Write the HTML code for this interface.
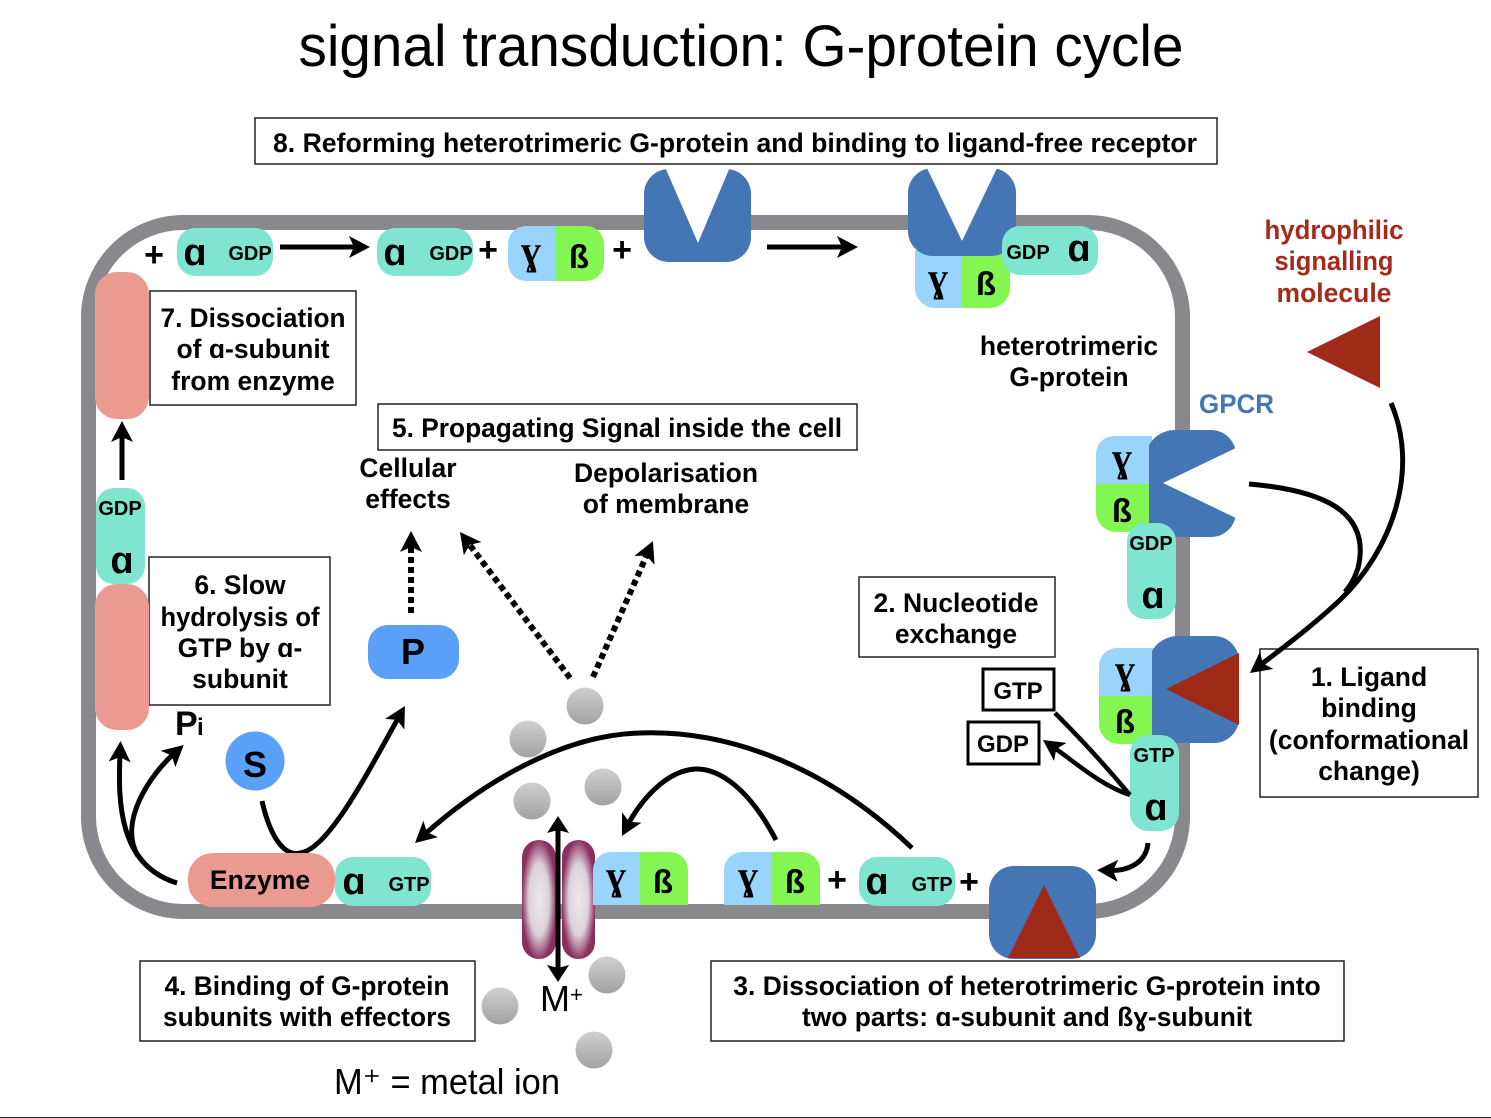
<!DOCTYPE html>
<html><head><meta charset="utf-8">
<style>
html,body{margin:0;padding:0;background:#fff}
svg{display:block}
text{font-family:"Liberation Sans",sans-serif;fill:#000}
.b{font-weight:bold;font-size:26.5px;text-anchor:middle}
.g{font-weight:bold;font-size:20px;text-anchor:middle}
.a{font-weight:bold;font-size:38px;text-anchor:middle}
.s{font-weight:bold;font-size:33px;text-anchor:middle}
.y{font-family:"Liberation Serif",serif;font-weight:bold;font-size:40px;text-anchor:middle}
.bx{fill:#fff;stroke:#222;stroke-width:1.5}
.bt{fill:#fff;stroke:#000;stroke-width:3}
.ar{fill:none;stroke:#000;stroke-width:5;stroke-linecap:butt}
.ah{fill:none;stroke:#000;stroke-width:5;marker-end:url(#h)}
.do{fill:none;stroke:#000;stroke-width:6;stroke-dasharray:6 4;marker-end:url(#h)}
.t{fill:#80e5d0}.lb{fill:#99d4fb}.gr{fill:#83f652}.bl{fill:#4475b4}.rd{fill:#9e2a17}.sa{fill:#ea9a90}
.c{fill:url(#ball)}
.ch{fill:url(#chan)}
</style></head><body>
<svg width="1491" height="1118" viewBox="0 0 1491 1118" xmlns="http://www.w3.org/2000/svg">
<defs>
<marker id="h" markerUnits="userSpaceOnUse" markerWidth="24" markerHeight="24" refX="8" refY="11" orient="auto"><path d="M0 0L21 11L0 22L5 11z" fill="#000"/></marker>
<linearGradient id="ball" x1="0" y1="0" x2="0" y2="1"><stop offset="0" stop-color="#d0d0d0"/><stop offset="1" stop-color="#a2a2a2"/></linearGradient>
<radialGradient id="chan" cx="0.5" cy="0.5" r="0.6"><stop offset="0" stop-color="#ece8ec"/><stop offset="0.5" stop-color="#dcd2da"/><stop offset="0.85" stop-color="#8b2f5e"/></radialGradient>
</defs>
<rect width="1491" height="1118" fill="#fff"/>
<rect x="0" y="1117" width="1491" height="1" fill="#222"/>

<text x="741" y="66" font-size="58" text-anchor="middle" textLength="885" lengthAdjust="spacingAndGlyphs">signal transduction: G-protein cycle</text>

<!-- membrane -->
<rect x="88.5" y="222.5" width="1094" height="689" rx="95" fill="none" stroke="#88888d" stroke-width="15"/>

<!-- text boxes -->
<rect class="bx" x="255" y="118" width="962" height="46"/>
<text class="b" x="735" y="152" textLength="924" lengthAdjust="spacingAndGlyphs">8. Reforming heterotrimeric G-protein and binding to ligand-free receptor</text>
<rect class="bx" x="150" y="291" width="206" height="114"/>
<text class="b" x="253" y="327" textLength="185" lengthAdjust="spacingAndGlyphs">7. Dissociation</text><text class="b" x="253" y="358">of ɑ-subunit</text><text class="b" x="253" y="390">from enzyme</text>
<rect class="bx" x="378" y="404" width="479" height="46"/>
<text class="b" x="617" y="437" textLength="450" lengthAdjust="spacingAndGlyphs">5. Propagating Signal inside the cell</text>
<text class="b" x="408" y="477">Cellular</text><text class="b" x="408" y="508">effects</text>
<text class="b" x="666" y="482">Depolarisation</text><text class="b" x="666" y="513">of membrane</text>
<rect class="bx" x="859" y="577" width="196" height="80"/>
<text class="b" x="956" y="612">2. Nucleotide</text><text class="b" x="956" y="643">exchange</text>
<rect class="bx" x="149" y="557" width="181" height="148"/>
<text class="b" x="240" y="594">6. Slow</text><text class="b" x="240" y="626" textLength="159" lengthAdjust="spacingAndGlyphs">hydrolysis of</text><text class="b" x="240" y="657">GTP by ɑ-</text><text class="b" x="240" y="688">subunit</text>
<rect class="bx" x="1260" y="649" width="218" height="148"/>
<text class="b" x="1369" y="686">1. Ligand</text><text class="b" x="1369" y="717">binding</text><text class="b" x="1369" y="749">(conformational</text><text class="b" x="1369" y="780">change)</text>
<rect class="bx" x="140" y="961" width="335" height="80"/>
<text class="b" x="307" y="995" textLength="285" lengthAdjust="spacingAndGlyphs">4. Binding of G-protein</text><text class="b" x="307" y="1026" textLength="288" lengthAdjust="spacingAndGlyphs">subunits with effectors</text>
<rect class="bx" x="711" y="961" width="633" height="80"/>
<text class="b" x="1027" y="995">3. Dissociation of heterotrimeric G-protein into</text><text class="b" x="1027" y="1026" textLength="450" lengthAdjust="spacingAndGlyphs">two parts: ɑ-subunit and ßɣ-subunit</text>
<rect class="bt" x="983" y="669" width="71" height="41"/>
<text class="b" x="1018" y="699" style="font-size:24px">GTP</text>
<rect class="bt" x="968" y="722" width="71" height="42"/>
<text class="b" x="1003" y="752" style="font-size:24px">GDP</text>

<!-- top row -->
<text class="b" x="154" y="266" style="font-size:34px">+</text>
<rect class="t" x="177" y="228" width="96" height="48" rx="18"/>
<text class="a" x="195" y="265">ɑ</text><text class="g" x="250" y="260">GDP</text>
<path class="ah" d="M280 247H357"/>
<rect class="t" x="377" y="228" width="96" height="48" rx="18"/>
<text class="a" x="395" y="265">ɑ</text><text class="g" x="451" y="260">GDP</text>
<text class="b" x="488" y="261" style="font-size:34px">+</text>
<path class="lb" d="M526 226H556V281H526a18 18 0 0 1-18-18V244a18 18 0 0 1 18-18z"/>
<path class="gr" d="M556 226H586a18 18 0 0 1 18 18V263a18 18 0 0 1-18 18H556z"/>
<text class="y" x="531" y="264">ɣ</text><text class="s" x="579" y="268">ß</text>
<text class="b" x="622" y="261" style="font-size:34px">+</text>
<rect class="bl" x="644" y="169" width="107" height="93" rx="25"/>
<polygon points="665,167 730,167 698,243" fill="#fff"/>
<path class="ah" d="M767 247H845"/>

<!-- top right trimer -->
<path class="lb" d="M915 250H962V308H935a20 20 0 0 1-20-20z"/>
<path class="gr" d="M962 250H1010V288a20 20 0 0 1-20 20H962z"/>
<rect class="bl" x="908" y="168" width="108" height="88" rx="25"/>
<polygon points="926,166 998,166 962,241" fill="#fff"/>
<text class="y" x="938" y="291">ɣ</text><text class="s" x="986" y="295">ß</text>
<rect class="t" x="1002" y="226" width="96" height="49" rx="18"/>
<text class="g" x="1028" y="259">GDP</text><text class="a" x="1079" y="261">ɑ</text>

<text class="b" x="1069" y="355">heterotrimeric</text><text class="b" x="1069" y="386">G-protein</text>
<text class="b" x="1334" y="239" style="fill:#a52a1a" textLength="139" lengthAdjust="spacingAndGlyphs">hydrophilic</text><text class="b" x="1334" y="270" style="fill:#a52a1a" textLength="119" lengthAdjust="spacingAndGlyphs">signalling</text><text class="b" x="1334" y="302" style="fill:#a52a1a">molecule</text>
<polygon class="rd" points="1380,316 1380,388 1307,352"/>
<text x="1199" y="413" font-size="27" font-weight="bold" style="fill:#4475b4" textLength="75" lengthAdjust="spacingAndGlyphs">GPCR</text>

<!-- right receptor 1 -->
<path class="lb" d="M1114 436H1152V484H1096V454a18 18 0 0 1 18-18z"/>
<path class="gr" d="M1096 484H1152V532H1116a20 20 0 0 1-20-20z"/>
<path class="bl" d="M1174 430H1211a25 25 0 0 1 25 25V512a25 25 0 0 1-25 25H1149V445a30 30 0 0 1 25-15z"/>
<polygon points="1238,447 1163,483 1238,519" fill="#fff"/>
<text class="y" x="1122" y="471">ɣ</text><text class="s" x="1122" y="522">ß</text>
<rect class="t" x="1127" y="523" width="49" height="96" rx="18"/>
<text class="g" x="1151" y="550">GDP</text><text class="a" x="1153" y="608">ɑ</text>

<!-- right receptor 2 -->
<path class="lb" d="M1117 648H1155V696H1099V666a18 18 0 0 1 18-18z"/>
<path class="gr" d="M1099 696H1155V744H1119a20 20 0 0 1-20-20z"/>
<path class="bl" d="M1177 636H1214a25 25 0 0 1 25 25V718a25 25 0 0 1-25 25H1152V651a30 30 0 0 1 25-15z"/>
<polygon class="rd" points="1239,653 1166,689 1239,725"/>
<text class="y" x="1125" y="683">ɣ</text><text class="s" x="1125" y="733">ß</text>
<rect class="t" x="1130" y="735" width="49" height="96" rx="18"/>
<text class="g" x="1154" y="762">GTP</text><text class="a" x="1156" y="820">ɑ</text>

<!-- curved arrows right -->
<path class="ar" d="M1249 484C1320 490 1372 510 1358 568C1354 580 1350 586 1345 592"/>
<path class="ah" d="M1391 403C1420 470 1392 550 1340 600C1310 628 1280 650 1260.3 665.1"/>
<path class="ar" d="M1055 713C1080 738 1105 765 1130 795" style="stroke-width:4.5"/>
<path class="ar" d="M1130 795C1100 785 1075 762 1053.7 747.4" style="stroke-width:4.5;marker-end:url(#h)"/>
<path class="ah" d="M1148 843C1146 865 1125 871 1110 870.5"/>

<!-- left side -->
<rect class="sa" x="95" y="272" width="54" height="147" rx="22"/>
<rect class="sa" x="95" y="584" width="54" height="146" rx="22"/>
<rect class="t" x="96" y="488" width="49" height="96" rx="18"/>
<text class="g" x="120" y="515">GDP</text><text class="a" x="122" y="573">ɑ</text>
<path class="ah" d="M122 480V434"/>
<text x="175" y="735" font-size="34" font-weight="bold">P</text><text x="197" y="735" font-size="24" font-weight="bold">i</text>
<circle cx="255" cy="761" r="29.5" fill="#5ba0f8"/>
<text class="a" x="255" y="777" style="font-size:36px">S</text>
<rect x="368" y="625" width="91" height="54" rx="20" fill="#5ba0f8"/>
<text class="a" x="413" y="664" style="font-size:36px">P</text>

<path class="ah" d="M177 883C118 865 118 800 120 754"/>
<path class="ah" d="M138 856C118 822 150 775 174 753.6"/>
<path class="ah" d="M262 801C272 845 288 856 300 853C328 850 368 772 398.6 717.3"/>

<!-- enzyme -->
<rect class="sa" x="188" y="853" width="147" height="54" rx="25"/>
<text class="b" x="260" y="889">Enzyme</text>
<rect class="t" x="335" y="857" width="96" height="49" rx="18"/>
<text class="a" x="354" y="894">ɑ</text><text class="g" x="409" y="891">GTP</text>

<!-- dotted arrows -->
<path class="do" d="M411 613V544"/>
<path class="do" d="M570 678L467.8 542.4"/>
<path class="do" d="M593 677L647.7 553"/>

<!-- balls -->
<circle class="c" cx="585" cy="706" r="18.5"/><circle class="c" cx="528" cy="739" r="18.5"/><circle class="c" cx="603" cy="787" r="18.5"/><circle class="c" cx="532" cy="801" r="18.5"/><circle class="c" cx="607" cy="975" r="18.5"/><circle class="c" cx="500" cy="1006" r="18.5"/><circle class="c" cx="594" cy="1050" r="18.5"/>

<!-- big arcs -->
<path class="ah" d="M912 848C820 760 720 730 640 733C560 735 480 785 424.7 834.3"/>
<path class="ah" d="M776 840C750 790 720 768 695 769C665 771 640 802 628 824.5"/>

<!-- channel -->
<rect class="ch" x="522" y="840" width="34" height="119" rx="17"/>
<rect class="ch" x="562" y="840" width="33" height="119" rx="16.5"/>
<path d="M558 830V968" fill="none" stroke="#000" stroke-width="5"/>
<polygon points="558,816 569,833 558,830 547,833" fill="#000"/>
<polygon points="558,982 569,965 558,968 547,965" fill="#000"/>
<text x="540" y="1011" font-size="36">M</text><text x="570" y="1002" font-size="22">+</text>
<text x="334" y="1094" font-size="36" textLength="226" lengthAdjust="spacingAndGlyphs">M⁺ = metal ion</text>

<!-- bottom row -->
<path class="lb" d="M611 852H640V905H593V870a18 18 0 0 1 18-18z"/>
<path class="gr" d="M640 852H670a18 18 0 0 1 18 18V905H640z"/>
<text class="y" x="616" y="889">ɣ</text><text class="s" x="663" y="893">ß</text>
<path class="lb" d="M742 852H772V905H724V870a18 18 0 0 1 18-18z"/>
<path class="gr" d="M772 852H802a18 18 0 0 1 18 18V905H772z"/>
<text class="y" x="748" y="889">ɣ</text><text class="s" x="795" y="893">ß</text>
<text class="b" x="837" y="891" style="font-size:34px">+</text>
<rect class="t" x="859" y="857" width="96" height="49" rx="18"/>
<text class="a" x="877" y="894">ɑ</text><text class="g" x="932" y="891">GTP</text>
<text class="b" x="969" y="893" style="font-size:34px">+</text>
<rect class="bl" x="989" y="866" width="107" height="93" rx="25"/>
<polygon class="rd" points="1044,885 1008,958 1080,958"/>
</svg>
</body></html>
